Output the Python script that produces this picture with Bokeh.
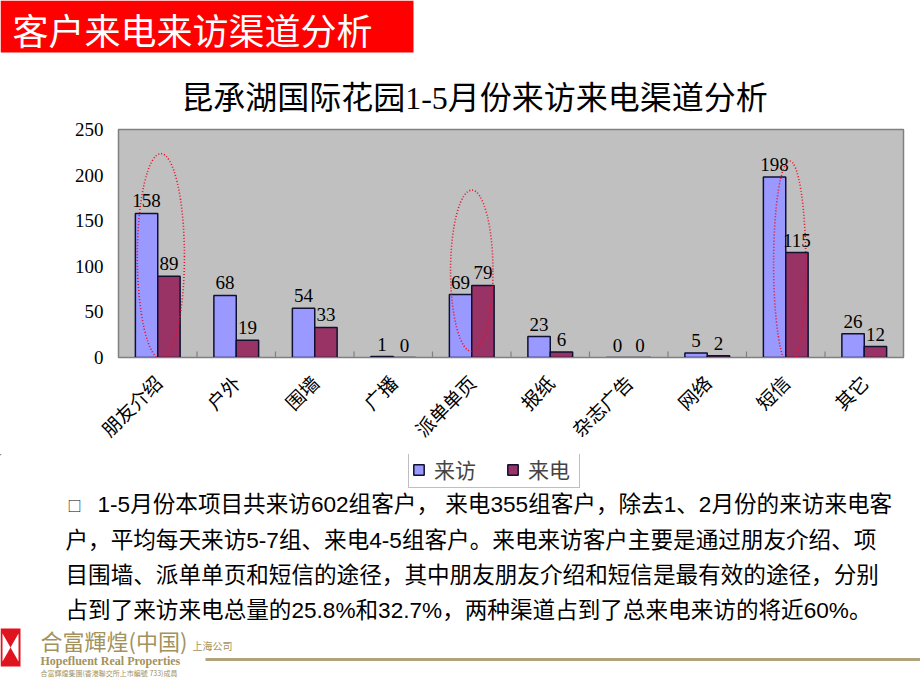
import math
from bokeh.plotting import figure
from bokeh.models import Range1d, FactorRange, Legend, LegendItem, ColumnDataSource, FixedTicker
from bokeh.layouts import column
from bokeh.transform import dodge
from bokeh.core.properties import value
from bokeh.embed import file_html
from bokeh.resources import INLINE

# ---------------- data ----------------
header_title = "客户来电来访渠道分析"
chart_title = "昆承湖国际花园1-5月份来访来电渠道分析"
channels = ["朋友介绍", "户外", "围墙", "广播", "派单单页", "报纸", "杂志广告", "网络", "短信", "其它"]
visits = [158, 68, 54, 1, 69, 23, 0, 5, 198, 26]
calls = [89, 19, 33, 0, 79, 6, 0, 2, 115, 12]
series_names = ["来访", "来电"]
y_ticks = [0, 50, 100, 150, 200, 250]
highlighted = ["朋友介绍", "派单单页", "短信"]
hl_center = [111, 95, 103]
hl_height = [225, 177, 225]
paragraph = [
    "1-5月份本项目共来访602组客户， 来电355组客户，除去1、2月份的来访来电客",
    "户，平均每天来访5-7组、来电4-5组客户。来电来访客户主要是通过朋友介绍、项",
    "目围墙、派单单页和短信的途径，其中朋友朋友介绍和短信是最有效的途径，分别",
    "占到了来访来电总量的25.8%和32.7%，两种渠道占到了总来电来访的将近60%。",
]
logo_name = "合富輝煌(中国)"
logo_branch = "上海公司"
logo_en = "Hopefluent Real Properties"
logo_small = "合富輝煌集團(香港聯交所上市編號 733)成員"

# ---------------- styles ----------------
W = 920
TOP_H = 114
CHART_H = 340
BOTTOM_H = 690 - TOP_H - CHART_H
B0 = TOP_H + CHART_H          # canvas y where the bottom figure starts
CJK = "Noto Sans CJK SC"
SERIF = "Liberation Serif"
MIX = "Liberation Sans, Noto Sans CJK SC"
C_VISIT = "#9999FF"
C_CALL = "#993366"
BAR_LINE = "#101030"
GOLD = "#A3925E"

# ---------------- header figure ----------------
top = figure(width=W, height=TOP_H, x_range=Range1d(0, W), y_range=Range1d(TOP_H, 0),
             x_axis_location=None, y_axis_location=None, min_border=0, frame_align=False,
             output_backend="svg", toolbar_location=None)
top.grid.visible = False
top.outline_line_color = None
top.quad(left=[0], right=[413], top=[0], bottom=[52], fill_color="#FF0000", line_color=None)
top.text(x=[12], y=[28], text=[header_title], text_font=value(CJK), text_font_size="36px",
         text_color="white", text_baseline="middle", text_align="left")
top.text(x=[474], y=[97], text=[chart_title], text_font=value("Liberation Serif, Noto Sans CJK SC"),
         text_font_size="32px", text_color="black", text_baseline="middle", text_align="center")

# ---------------- chart figure ----------------
p = figure(width=W, height=CHART_H, x_range=FactorRange(factors=channels), y_range=Range1d(0, 250),
           output_backend="svg", toolbar_location=None, frame_align=False,
           min_border_left=118, min_border_right=17, min_border_top=15,
           min_border_bottom=CHART_H - 15 - 229)
p.background_fill_color = "#C0C0C0"
p.border_fill_color = "white"
p.outline_line_color = "#808080"
p.outline_line_width = 1.5
p.grid.visible = False

src = ColumnDataSource(dict(ch=channels, v=visits, c=calls,
                            vl=[str(v) for v in visits], cl=[str(c) for c in calls]))
off = 0.1425
bw = 0.285
rv = p.vbar(x=dodge("ch", -off, range=p.x_range), top="v", width=bw, source=src,
            fill_color=C_VISIT, line_color=BAR_LINE, line_width=1.5)
rc = p.vbar(x=dodge("ch", off, range=p.x_range), top="c", width=bw, source=src,
            fill_color=C_CALL, line_color=BAR_LINE, line_width=1.5)
p.text(x=dodge("ch", -off, range=p.x_range), y="v", text="vl", source=src,
       text_font=value(SERIF), text_font_size="19px", text_align="center",
       text_baseline="bottom", y_offset=-6, text_color="black")
p.text(x=dodge("ch", off, range=p.x_range), y="c", text="cl", source=src,
       text_font=value(SERIF), text_font_size="19px", text_align="center",
       text_baseline="bottom", y_offset=-6, text_color="black")

# inside tick marks at category boundaries
bsrc = ColumnDataSource(dict(ch=channels[1:], y=[0] * (len(channels) - 1)))
p.scatter(x=dodge("ch", -0.5, range=p.x_range), y="y", source=bsrc, marker="dash",
          angle=math.pi / 2, size=12, line_color="#808080", line_width=1.2)

# dotted ellipses highlighting the key channels
hl_x = [channels.index(c) + 0.5 + d for c, d in zip(highlighted, [0.04, 0.0, 0.05])]
p.ellipse(x=hl_x, y=hl_center, width=[0.6, 0.54, 0.41], height=hl_height,
          fill_color=None, line_color="#E8102A", line_dash="1 2", line_width=1.6)

p.xaxis.major_label_orientation = math.pi / 4
p.xaxis.major_label_text_font = CJK
p.xaxis.major_label_text_font_size = "19px"
p.xaxis.major_label_text_color = "black"
p.xaxis.major_tick_line_color = None
p.xaxis.major_tick_out = 0
p.xaxis.major_tick_in = 0
p.xaxis.minor_tick_line_color = None
p.xaxis.axis_line_color = "#808080"
p.xaxis.major_label_standoff = 21

p.yaxis.ticker = FixedTicker(ticks=y_ticks)
p.yaxis.major_label_text_font = SERIF
p.yaxis.major_label_text_font_size = "19px"
p.yaxis.major_label_text_color = "black"
p.yaxis.major_tick_line_color = None
p.yaxis.major_tick_out = 0
p.yaxis.major_tick_in = 0
p.yaxis.minor_tick_line_color = None
p.yaxis.axis_line_color = "#808080"
p.yaxis.major_label_standoff = 15

# ---------------- bottom figure ----------------
b = figure(width=W, height=BOTTOM_H, x_range=Range1d(0, W), y_range=Range1d(690, B0),
           x_axis_location=None, y_axis_location=None, min_border=0, frame_align=False,
           output_backend="svg", toolbar_location=None)
b.grid.visible = False
b.outline_line_color = None

# legend for the two series (swatches share the bar styling; renderers lie off-canvas)
lv = b.vbar(x=[-100], top=[0], width=1, fill_color=C_VISIT, line_color=BAR_LINE, line_width=1.5)
lc = b.vbar(x=[-100], top=[0], width=1, fill_color=C_CALL, line_color=BAR_LINE, line_width=1.5)
legend = Legend(items=[LegendItem(label=series_names[0], renderers=[lv]),
                       LegendItem(label=series_names[1], renderers=[lc])],
                orientation="horizontal", location=(408, 690 - 488), margin=0, padding=3,
                spacing=24, glyph_width=13, glyph_height=13, label_standoff=9,
                label_width=48, label_text_font=CJK, label_text_font_size="21px",
                border_line_color="#808080", border_line_width=1,
                background_fill_color="white")
b.add_layout(legend, "center")

b.text(x=[67], y=[504], text=["□"], text_font=value(CJK), text_font_size="14px",
       text_baseline="middle", text_color="black")
b.text(x=[97, 65, 65, 65], y=[504, 540, 575, 610], text=paragraph, text_font=value(MIX),
       text_font_size="22.6px", text_baseline="middle", text_align="left", text_color="black")

# logo
b.quad(left=[0], right=[20], top=[628], bottom=[666], fill_color="#E0141E", line_color=None)
b.patches(xs=[[2, 10, 2], [18, 10, 18]], ys=[[633, 647, 661], [633, 647, 661]],
          fill_color="white", line_color=None)
b.text(x=[40], y=[639], text=[logo_name], text_font=value(CJK), text_font_size="22px",
       text_color=GOLD, text_baseline="middle")
b.text(x=[192], y=[645], text=[logo_branch], text_font=value(CJK), text_font_size="10px",
       text_color=GOLD, text_baseline="middle")
b.text(x=[40], y=[660], text=[logo_en], text_font=value(SERIF), text_font_size="12px",
       text_font_style="bold", text_color=GOLD, text_baseline="middle")
b.text(x=[40], y=[672], text=[logo_small], text_font=value(CJK), text_font_size="7px",
       text_color=GOLD, text_baseline="middle")
b.quad(left=[205], right=[920], top=[657.5], bottom=[660.5], fill_color="#B0A47C", line_color=None)

layout = column(top, p, b, spacing=0)
open("out.html", "w").write(file_html(layout, INLINE))
